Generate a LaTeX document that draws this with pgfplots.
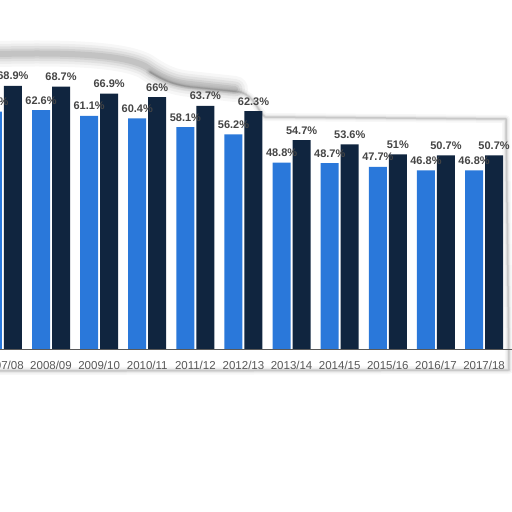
\documentclass[border=0pt]{standalone}
\usepackage{pgfplots}
\pgfplotsset{compat=1.18}
\usepackage{fontspec}
\setmainfont{Liberation Sans}
\definecolor{barblue}{HTML}{2A78DA}
\definecolor{barnavy}{HTML}{10253F}
\definecolor{lbl}{HTML}{454545}
\definecolor{tick}{HTML}{595959}
\begin{document}
\begin{tikzpicture}
\useasboundingbox (0pt,0pt) rectangle (512pt,512pt);
\fill[white] (0pt,0pt) rectangle (512pt,512pt);
% soft shadow of the warped page
\foreach \w/\o in {26/0.03,20/0.04,15/0.05,10/0.06,6/0.07}{
  \draw[black,opacity=\o,line width=\w pt,line cap=round,line join=round]
    (0pt,458pt) .. controls (80pt,460pt) and (125pt,456pt) .. (145pt,446pt)
    .. controls (160pt,436pt) and (170pt,430pt) .. (190pt,428pt)
    -- (235pt,423pt);
}
\foreach \w/\o in {8/0.03,5/0.04,3/0.06,1.5/0.1}{
  \draw[black,opacity=\o,line width=\w pt,line cap=round,line join=round]
    (150pt,440pt) .. controls (160pt,434pt) and (170pt,428pt) .. (190pt,425pt)
    -- (240pt,420pt) .. controls (255pt,416pt) and (258pt,400pt) .. (265pt,395pt)
    -- (506pt,393pt) -- (509pt,142pt) -- (0pt,141pt);
}
\begin{axis}[
  at={(0pt,163pt)}, anchor=south west,
  scale only axis, width=512pt, height=305.4pt,
  ybar=2pt, bar width=18pt,
  xmin=-0.06, xmax=10.58, ymin=0, ymax=80,
  xtick={0,...,11},
  xticklabels={2007/08,2008/09,2009/10,2010/11,2011/12,2012/13,2013/14,2014/15,2015/16,2016/17,2017/18,2018/19},
  xticklabel style={font=\fontsize{11.5}{12}\selectfont, text=tick, yshift=-4pt},
  major x tick style={draw=none},
  ytick={20,40,60,80}, yticklabels={},
  major y tick style={draw=none},
  ymajorgrids, grid style={densely dotted, gray!40},
  axis x line*=bottom, axis y line=none,
  x axis line style={draw=gray!70!black, line width=0.8pt, -},
  nodes near coords={\pgfmathprintnumber{\pgfplotspointmeta}\%},
  nodes near coords style={font=\fontsize{11}{12}\selectfont\bfseries, text=lbl, anchor=base, yshift=6pt, inner sep=0pt},
  /pgf/number format/.cd, fixed, precision=1, assume math mode=true,
]
\addplot[fill=barblue, draw=none] coordinates {
  (0,62.2) (1,62.6) (2,61.1) (3,60.4) (4,58.1) (5,56.2) (6,48.8) (7,48.7) (8,47.7) (9,46.8) (10,46.8) (11,46.3)};
\addplot[fill=barnavy, draw=none] coordinates {
  (0,68.9) (1,68.7) (2,66.9) (3,66) (4,63.7) (5,62.3) (6,54.7) (7,53.6) (8,51) (9,50.7) (10,50.7) (11,49.8)};
\end{axis}
\end{tikzpicture}
\end{document}
